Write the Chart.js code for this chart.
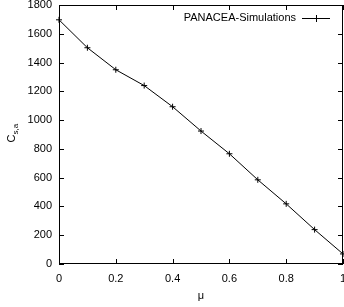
<!DOCTYPE html>
<html>
<head>
<meta charset="utf-8">
<script src="https://cdn.jsdelivr.net/npm/chart.js@4.4.0/dist/chart.umd.min.js"></script>
<style>
  html, body { margin: 0; padding: 0; background: #fff; }
  #wrap { width: 344px; height: 307px; }
</style>
</head>
<body>
<div id="wrap"><canvas id="chart"></canvas></div>
<script>
// values
const muValues = [0, 0.1, 0.2, 0.3, 0.4, 0.5, 0.6, 0.7, 0.8, 0.9, 1.0];
const csaValues = [1697, 1503, 1350, 1240, 1093, 924, 766, 585, 418, 239, 70];
const seriesLabel = 'PANACEA-Simulations';
const xTicks = [0, 0.2, 0.4, 0.6, 0.8, 1];
const yTicks = [0, 200, 400, 600, 800, 1000, 1200, 1400, 1600, 1800];

const FONT = 'Liberation Sans, Arial, Helvetica, sans-serif';

// gnuplot-like frame: box + inward ticks on all four sides
const framePlugin = {
  id: 'frame',
  afterDraw(chart) {
    const ctx = chart.ctx;
    const a = chart.chartArea;
    const xs = chart.scales.x, ys = chart.scales.y;
    ctx.save();
    ctx.strokeStyle = '#000';
    ctx.lineWidth = 1;
    ctx.strokeRect(Math.round(a.left) + 0.5, Math.round(a.top) + 0.5,
      Math.round(a.right - a.left) - 1, Math.round(a.bottom - a.top) - 1);
    ctx.beginPath();
    const len = 5;
    xTicks.forEach(v => {
      const px = Math.round(xs.getPixelForValue(v)) + 0.5;
      ctx.moveTo(px, a.bottom); ctx.lineTo(px, a.bottom - len);
      ctx.moveTo(px, a.top); ctx.lineTo(px, a.top + len);
    });
    yTicks.forEach(v => {
      const py = Math.round(ys.getPixelForValue(v)) + 0.5;
      ctx.moveTo(a.left, py); ctx.lineTo(a.left + len, py);
      ctx.moveTo(a.right, py); ctx.lineTo(a.right - len, py);
    });
    ctx.stroke();

    // legend inside top right
    ctx.font = '11px ' + FONT;
    ctx.fillStyle = '#000';
    ctx.textAlign = 'right';
    ctx.textBaseline = 'middle';
    const ly = a.top + 13;
    ctx.fillText(seriesLabel, a.right - 47, ly);
    ctx.beginPath();
    ctx.moveTo(a.right - 41, ly + 0.5); ctx.lineTo(a.right - 13, ly + 0.5);
    const cx = a.right - 27;
    ctx.moveTo(cx + 0.5, ly - 3); ctx.lineTo(cx + 0.5, ly + 4);
    ctx.stroke();

    // y axis title C_{s,a}
    ctx.translate(15, (a.top + a.bottom) / 2);
    ctx.rotate(-Math.PI / 2);
    ctx.textAlign = 'left';
    ctx.textBaseline = 'alphabetic';
    ctx.font = '11px ' + FONT;
    ctx.fillText('C', -8, 0);
    const w = ctx.measureText('C').width;
    ctx.font = '8px ' + FONT;
    ctx.fillText('s,a', -8 + w, 3);
    ctx.restore();
  }
};

new Chart(document.getElementById('chart'), {
  type: 'line',
  data: {
    labels: muValues,
    datasets: [{
      label: seriesLabel,
      data: muValues.map((m, i) => ({ x: m, y: csaValues[i] })),
      borderColor: '#000',
      backgroundColor: '#000',
      borderWidth: 1,
      pointStyle: 'cross',
      pointRadius: 3,
      pointBorderWidth: 1,
      tension: 0,
      fill: false,
      clip: false
    }]
  },
  options: {
    responsive: true,
    maintainAspectRatio: false,
    animation: false,
    layout: { autoPadding: false, padding: { top: 5, right: 1, left: 0, bottom: 0 } },
    plugins: { legend: { display: false }, tooltip: { enabled: false } },
    scales: {
      x: {
        type: 'linear',
        min: 0,
        max: 1,
        afterBuildTicks: s => { s.ticks = xTicks.map(v => ({ value: v })); },
        afterFit: s => { s.height = 43; s.paddingLeft = 0; s.paddingRight = 0; },
        grid: { display: false, drawTicks: false },
        border: { display: false },
        ticks: { color: '#000', font: { family: FONT, size: 11 }, padding: 8, maxRotation: 0,
          callback: v => String(v) },
        title: { display: true, text: 'μ', color: '#000', font: { family: FONT, size: 11 }, padding: { top: 6 } }
      },
      y: {
        min: 0,
        max: 1800,
        afterBuildTicks: s => { s.ticks = yTicks.map(v => ({ value: v })); },
        afterFit: s => { s.width = 59; s.paddingTop = 0; s.paddingBottom = 0; },
        grid: { display: false, drawTicks: false },
        border: { display: false },
        ticks: { color: '#000', font: { family: FONT, size: 11 }, padding: 7,
          callback: v => String(v) }
      }
    }
  },
  plugins: [framePlugin]
});
</script>
</body>
</html>
